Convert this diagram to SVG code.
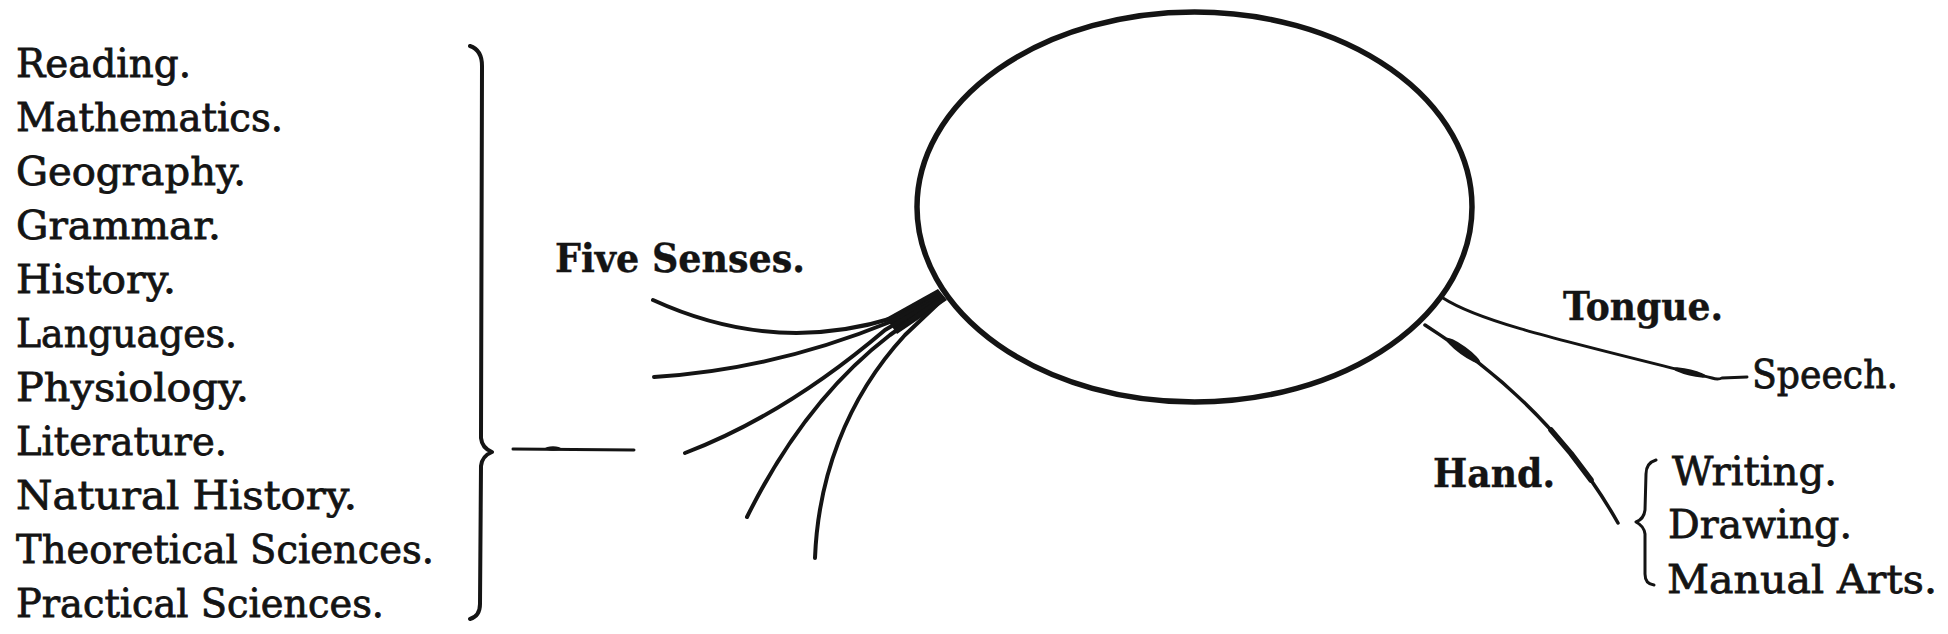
<svg xmlns="http://www.w3.org/2000/svg" width="1948" height="634" viewBox="0 0 1948 634">
<style>
text{font-family:'DejaVu Serif','Liberation Serif',serif;fill:#141414}
.r{font-size:39px;font-weight:normal;stroke:#141414;stroke-width:0.8}
.b{font-size:40px;font-weight:bold;stroke:#141414;stroke-width:0.4}
.ln{fill:none;stroke:#141414;stroke-linecap:round;stroke-linejoin:round}
</style>
<rect width="1948" height="634" fill="#ffffff"/>
<g id="subjects">
<text class="r" x="16" y="77" textLength="175" lengthAdjust="spacingAndGlyphs">Reading.</text>
<text class="r" x="16" y="131" textLength="267" lengthAdjust="spacingAndGlyphs">Mathematics.</text>
<text class="r" x="16" y="185" textLength="230" lengthAdjust="spacingAndGlyphs">Geography.</text>
<text class="r" x="16" y="239" textLength="205" lengthAdjust="spacingAndGlyphs">Grammar.</text>
<text class="r" x="16" y="293" textLength="160" lengthAdjust="spacingAndGlyphs">History.</text>
<text class="r" x="16" y="347" textLength="221" lengthAdjust="spacingAndGlyphs">Languages.</text>
<text class="r" x="16" y="401" textLength="233" lengthAdjust="spacingAndGlyphs">Physiology.</text>
<text class="r" x="16" y="455" textLength="211" lengthAdjust="spacingAndGlyphs">Literature.</text>
<text class="r" x="16" y="509" textLength="341" lengthAdjust="spacingAndGlyphs">Natural History.</text>
<text class="r" x="16" y="563" textLength="418" lengthAdjust="spacingAndGlyphs">Theoretical Sciences.</text>
<text class="r" x="16" y="617" textLength="368" lengthAdjust="spacingAndGlyphs">Practical Sciences.</text>
<path class="ln" stroke-width="4" d="M470,46 Q482,50 482,66 L481,438 Q482,448 492,452 Q482,456 481,466 L480,604 Q480,616 470,619"/>
</g>
<g id="brain">
<ellipse cx="1194.5" cy="207" rx="277.5" ry="195" fill="none" stroke="#141414" stroke-width="5.5"/>
</g>
<g id="five-senses">
<text class="b" x="555" y="272" textLength="250" lengthAdjust="spacingAndGlyphs">Five Senses.</text>
</g>
<g id="tongue">
<text class="b" x="1563" y="320" textLength="160" lengthAdjust="spacingAndGlyphs">Tongue.</text>
</g>
<g id="speech">
<text class="r" x="1752" y="388" textLength="146" lengthAdjust="spacingAndGlyphs">Speech.</text>
</g>
<g id="hand">
<text class="b" x="1433" y="487" textLength="122" lengthAdjust="spacingAndGlyphs">Hand.</text>
</g>
<g id="hand-arts">
<path class="ln" stroke-width="3" d="M1656,460 Q1646,463 1646,474 L1645,510 Q1644,519 1636,522 Q1644,526 1645,534 L1645,574 Q1645,584 1654,585"/>
<text class="r" x="1672" y="485" textLength="165" lengthAdjust="spacingAndGlyphs">Writing.</text>
<text class="r" x="1668" y="538" textLength="184" lengthAdjust="spacingAndGlyphs">Drawing.</text>
<text class="r" x="1667" y="593" textLength="270" lengthAdjust="spacingAndGlyphs">Manual Arts.</text>
</g>
<g id="connectors">
<path class="ln" stroke-width="3" d="M513,449 L634,450"/>
<ellipse cx="553" cy="448.5" rx="8" ry="2.2" fill="#141414"/>
<path fill="#141414" d="M886,318 L938,289 L947,300 L897,334 Z"/>
<path class="ln" stroke-width="4" d="M653,300 Q773,355 893,318 L940,296"/>
<path class="ln" stroke-width="4" d="M654,377 Q772,370 890,322 L940,296"/>
<path class="ln" stroke-width="4" d="M685,453 Q785,415 885,330 L941,297"/>
<path class="ln" stroke-width="4" d="M747,517 Q805,400 890,335 L942,298"/>
<path class="ln" stroke-width="4" d="M815,558 C818,480 845,400 905,335 L943,299"/>
<path class="ln" stroke-width="3" d="M1443,298 C1480,322 1560,340 1712,378 Q1718,380 1722,378 L1747,377"/>
<ellipse cx="1690" cy="372.5" rx="17" ry="3.2" transform="rotate(14 1690 372.5)" fill="#141414"/>
<path class="ln" stroke-width="3.5" d="M1425,325 C1480,360 1560,420 1618,523"/>
<ellipse cx="1463" cy="350.5" rx="21" ry="4.2" transform="rotate(36 1463 350.5)" fill="#141414"/>
<path class="ln" stroke-width="5.5" d="M1551,430 L1571,453.5 L1591,480"/>
</g>
</svg>
